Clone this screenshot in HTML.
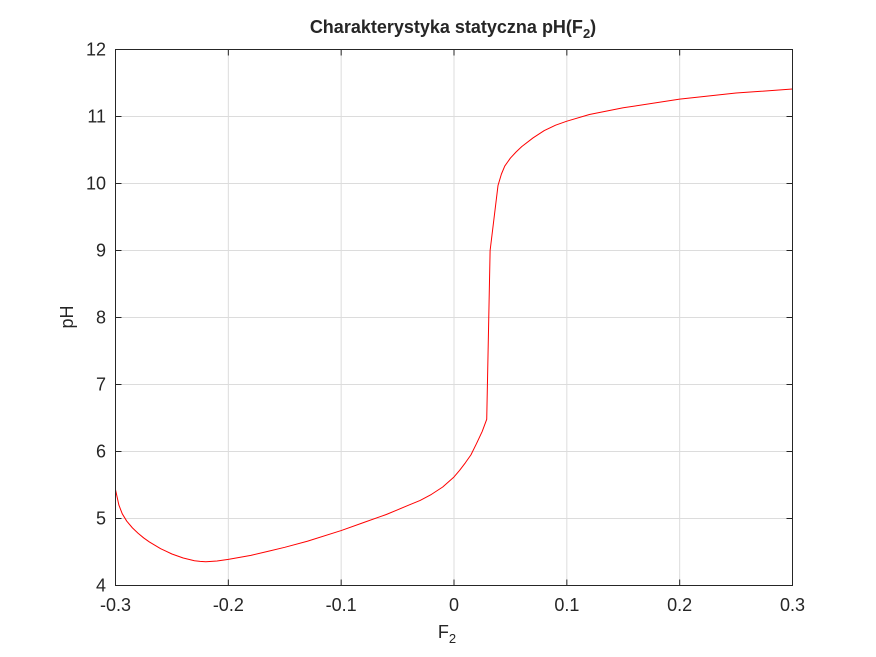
<!DOCTYPE html>
<html><head><meta charset="utf-8"><style>
html,body{margin:0;padding:0;background:#fff;width:876px;height:657px;overflow:hidden}
svg{font-family:"Liberation Sans",Arial,sans-serif}
</style></head><body>
<svg id="chart" width="876" height="657" xmlns="http://www.w3.org/2000/svg">
<rect x="0" y="0" width="876" height="657" fill="#fff"/>
<g id="grid"></g>
<g id="ticks"></g>
<path id="series" fill="none" stroke="#ff0000" stroke-width="1" stroke-linejoin="round"/>
<rect x="115.5" y="49.5" width="677" height="536" fill="none" stroke="#262626" stroke-width="1"/>
<text x="453" y="33" text-anchor="middle" font-size="18" font-weight="bold" fill="#262626">Charakterystyka statyczna pH(F<tspan font-size="13" dy="5">2</tspan><tspan dy="-5">)</tspan></text>
<text x="447" y="638" text-anchor="middle" font-size="18" fill="#262626">F<tspan font-size="13" dy="5">2</tspan></text>
<text transform="translate(73,317) rotate(-90)" text-anchor="middle" font-size="18" fill="#262626">pH</text>
</svg>
<script>
const xTicks=[-0.3,-0.2,-0.1,0,0.1,0.2,0.3];
const xTickLabels=["-0.3","-0.2","-0.1","0","0.1","0.2","0.3"];
const yTicks=[4,5,6,7,8,9,10,11,12];
const xValues=[-0.3,-0.297,-0.294,-0.29,-0.285,-0.28,-0.275,-0.27,-0.265,-0.26,-0.255,-0.25,-0.245,-0.24,-0.235,-0.23,-0.225,-0.22,-0.215,-0.21,-0.2,-0.19,-0.18,-0.165,-0.15,-0.13,-0.1,-0.08,-0.06,-0.05,-0.04,-0.03,-0.02,-0.01,0,0.005,0.01,0.015,0.02,0.025,0.029,0.032,0.039,0.042,0.045,0.05,0.055,0.06,0.07,0.08,0.09,0.1,0.12,0.15,0.2,0.25,0.3];
const phValues=[5.43,5.2,5.07,4.96,4.86,4.78,4.71,4.65,4.6,4.55,4.51,4.47,4.44,4.41,4.39,4.37,4.36,4.355,4.36,4.365,4.39,4.42,4.45,4.51,4.57,4.66,4.82,4.94,5.06,5.13,5.2,5.27,5.36,5.47,5.62,5.72,5.83,5.95,6.12,6.3,6.48,9.0,9.97,10.14,10.26,10.38,10.47,10.55,10.68,10.79,10.87,10.93,11.03,11.13,11.26,11.35,11.41];
const X0=115.5,X1=792.5,Y0=585.5,Y1=49.5;
const sx=v=>X0+(v+0.3)/0.6*(X1-X0);
const sy=v=>Y0-(v-4)/8*(Y0-Y1);
const NS="http://www.w3.org/2000/svg";
const grid=document.getElementById('grid'),ticks=document.getElementById('ticks');
function mk(tag,attrs,parent){const e=document.createElementNS(NS,tag);for(const k in attrs)e.setAttribute(k,attrs[k]);parent.appendChild(e);return e;}
xTicks.forEach((t,i)=>{const x=sx(t);
 const g=mk('line',{x1:x,x2:x,y1:Y1,y2:Y0,stroke:'#dcdcdc','stroke-width':1},grid);
 
 
 const tk=mk('line',{x1:x,x2:x,y1:Y0,y2:Y0-6,stroke:'#262626'},ticks);
 
 
 const tk2=mk('line',{x1:x,x2:x,y1:Y1,y2:Y1+6,stroke:'#262626'},ticks);
 
 
 const l=mk('text',{x:x,y:611,'text-anchor':'middle','font-size':18,fill:'#262626'},ticks);
 l.textContent=xTickLabels[i];
 
 
});
yTicks.forEach(t=>{const y=sy(t);
 const g=mk('line',{x1:X0,x2:X1,y1:y,y2:y,stroke:'#dcdcdc','stroke-width':1},grid);
 
 
 const tk=mk('line',{x1:X0,x2:X0+6,y1:y,y2:y,stroke:'#262626'},ticks);
 
 
 const tk2=mk('line',{x1:X1,x2:X1-6,y1:y,y2:y,stroke:'#262626'},ticks);
 
 
 const l=mk('text',{x:106,y:y+6,'text-anchor':'end','font-size':18,fill:'#262626'},ticks);
 l.textContent=String(t);
 
 
});
document.getElementById('series').setAttribute('d',xValues.map((v,i)=>(i?'L':'M')+sx(v).toFixed(2)+','+sy(phValues[i]).toFixed(2)).join(' '));
</script>
</body></html>
